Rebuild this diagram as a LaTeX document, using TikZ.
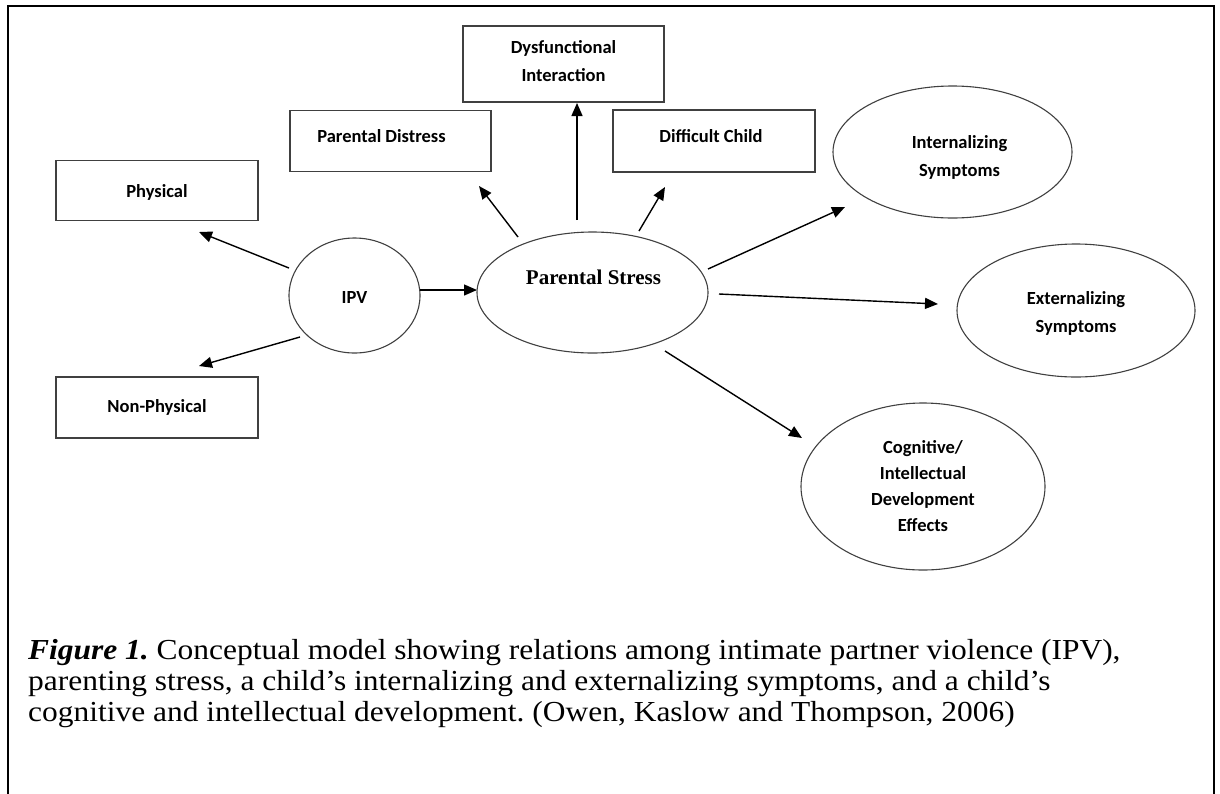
\documentclass[tikz,border=0pt]{standalone}
\usepackage{fontspec}
\setmainfont{Liberation Serif}
\newfontfamily\calib{Carlito}
\newfontfamily\captionserif[FakeStretch=1.085]{Liberation Serif}
\usetikzlibrary{shapes.geometric,arrows.meta}
\frenchspacing
\begin{document}
\begin{tikzpicture}[x=1pt,y=-1pt,
  nodefont/.style={font=\calib\bfseries\fontsize{18.5}{28}\selectfont},
  box/.style={draw=black!75, line width=1.1pt, rectangle, inner sep=0pt, nodefont, align=center},
  oval/.style={draw=black!75, line width=1.1pt, ellipse, inner sep=0pt, nodefont, align=center},
  lbl/.style={nodefont, align=center, inner sep=0pt},
  psfont/.style={font=\bfseries\fontsize{21}{25}\selectfont, inner sep=0pt},
  capfont/.style={font=\captionserif\fontsize{29}{31}\selectfont, inner sep=0pt, anchor=base west},
  arr/.style={line width=1.4pt, -{Triangle[length=13pt,width=11pt]}}]
\useasboundingbox (0,0) rectangle (1220,793);
\draw[line width=2.5pt, line join=miter] (8,800) -- (8,6) -- (1214,6) -- (1214,800);

\node[box, minimum width=202pt, minimum height=60pt,
  label={[lbl,yshift=-2pt]center:Physical}] (phys) at (157,190.5) {};
\node[box, minimum width=202pt, minimum height=61pt] (nonp) at (157,407.5) {Non-Physical};
\node[box, minimum width=201pt, minimum height=61pt,
  label={[lbl,xshift=-9pt,yshift=5pt]center:Parental Distress}] (pdis) at (390.5,141) {};
\node[box, minimum width=201pt, minimum height=76pt,
  label={[lbl,yshift=3pt]center:Dysfunctional\\Interaction}] (dysf) at (563.5,64) {};
\node[box, minimum width=202pt, minimum height=62pt,
  label={[lbl,xshift=-3pt,yshift=5pt]center:Difficult Child}] (diff) at (714,141) {};
\node[oval, minimum width=131pt, minimum height=115pt,
  label={[lbl,yshift=-2pt]center:IPV}] (ipv) at (354.5,295.5) {};
\node[oval, minimum width=231pt, minimum height=121pt,
  label={[psfont,xshift=1pt,yshift=15pt]center:Parental Stress}] (ps) at (592.5,292.5) {};
\node[oval, minimum width=239pt, minimum height=132pt,
  label={[lbl,xshift=7pt,yshift=-5pt]center:Internalizing\\Symptoms}] (int) at (952.5,152) {};
\node[oval, minimum width=238pt, minimum height=133pt,
  label={[lbl,yshift=-3pt]center:Externalizing\\Symptoms}] (ext) at (1076,310.5) {};
\node[oval, minimum width=244pt, minimum height=167pt, font=\calib\bfseries\fontsize{18.5}{26}\selectfont] (cog) at (923,486.5) {Cognitive/\\Intellectual\\Development\\Effects};

\coordinate (a1s) at (289,268); \coordinate (a1e) at (199,232);
\coordinate (a2s) at (300,337); \coordinate (a2e) at (199,366);
\coordinate (a3s) at (420,290); \coordinate (a3e) at (477,290);
\coordinate (a4s) at (518,237); \coordinate (a4e) at (479,186);
\coordinate (a5s) at (577,220); \coordinate (a5e) at (577,103);
\coordinate (a6s) at (639,231); \coordinate (a6e) at (665,187);
\coordinate (a7s) at (708,269); \coordinate (a7e) at (845,207);
\coordinate (a8s) at (719,294); \coordinate (a8e) at (938,304);
\coordinate (a9s) at (665,351); \coordinate (a9e) at (802,438);
\draw[arr] (a1s) -- (a1e);
\draw[arr] (a2s) -- (a2e);
\draw[arr] (a3s) -- (a3e);
\draw[arr] (a4s) -- (a4e);
\draw[arr] (a5s) -- (a5e);
\draw[arr] (a6s) -- (a6e);
\draw[arr] (a7s) -- (a7e);
\draw[arr] (a8s) -- (a8e);
\draw[arr] (a9s) -- (a9e);

\node[capfont] (cap1) at (28,659) {\textbf{\textit{Figure 1.}} Conceptual model showing relations among intimate partner violence (IPV),};
\node[capfont] (cap2) at (28,690) {parenting stress, a child’s internalizing and externalizing symptoms, and a child’s};
\node[capfont] (cap3) at (28,721) {cognitive and intellectual development. (Owen, Kaslow and Thompson, 2006)};
\end{tikzpicture}
\end{document}
